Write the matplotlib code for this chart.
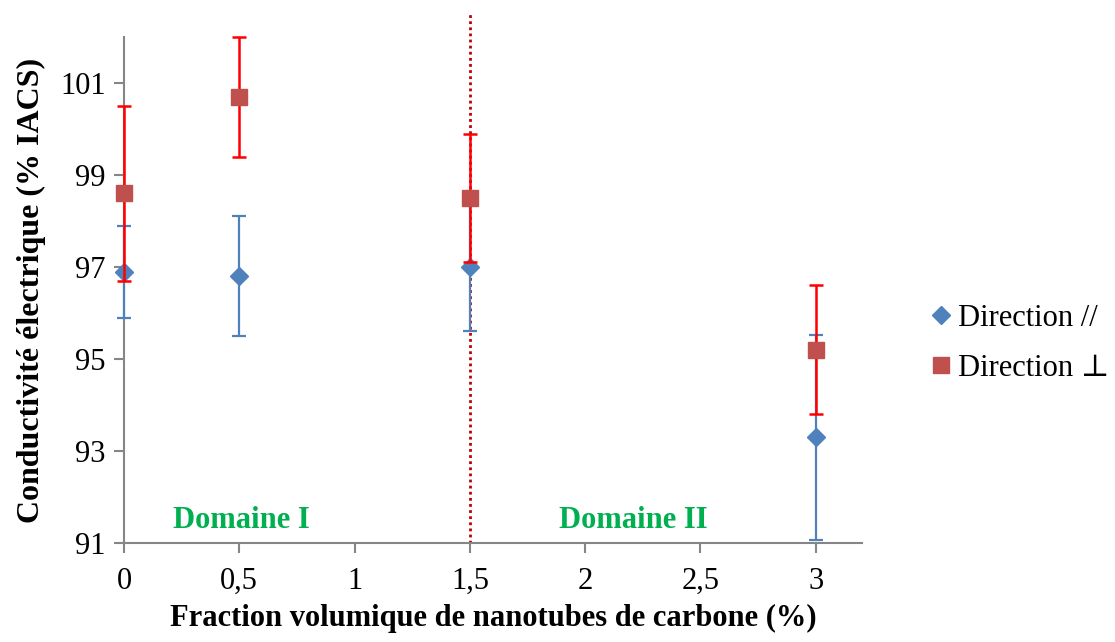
import matplotlib
matplotlib.use("Agg")
import matplotlib.pyplot as plt
from matplotlib.lines import Line2D

# Data
x_vals = [0, 0.5, 1.5, 3]
par_vals = [96.9, 96.8, 97.0, 93.3]
par_err = [1.0, 1.3, 1.4, 2.23]
perp_vals = [98.6, 100.7, 98.5, 95.2]
perp_err = [1.9, 1.3, 1.4, 1.4]
x_ticks = [0, 0.5, 1, 1.5, 2, 2.5, 3]
x_ticklabels = ["0", "0,5", "1", "1,5", "2", "2,5", "3"]
y_ticks = [91, 93, 95, 97, 99, 101]
boundary_x = 1.5
domain_labels = ["Domaine I", "Domaine II"]
domain_x = [0.51, 2.21]
series_labels = ["Direction //", "Direction \u22a5"]

plt.rcParams['font.family'] = ['Liberation Serif', 'DejaVu Serif']

fig = plt.figure(figsize=(11.15, 6.42), dpi=100)
ax = fig.add_axes([0.1112, 0.1542, 0.773 - 0.1112, 0.9424 - 0.1542])

blue = '#4F81BD'
red_m = '#C0504D'
red_e = '#FF0000'

ax.errorbar(x_vals, par_vals, yerr=par_err, fmt='D', color=blue, ecolor=blue,
            markersize=9, capsize=5, elinewidth=1.6, capthick=1.6, zorder=3,
            label=series_labels[0], clip_on=False)
ax.errorbar(x_vals, perp_vals, yerr=perp_err, fmt='s', color=red_m, ecolor=red_e,
            markersize=11, capsize=5, elinewidth=1.8, capthick=1.8, zorder=4,
            label=series_labels[1], clip_on=False)

ax.plot([boundary_x, boundary_x], [91, 102.5], linestyle=(0, (1, 1.2)), color='#C00000',
        linewidth=2, clip_on=False, zorder=2)

ax.set_xlim(0, 3.2)
ax.set_ylim(91, 102)
ax.set_xticks(x_ticks)
ax.set_xticklabels(x_ticklabels)
ax.set_yticks(y_ticks)

for s in ['top', 'right']:
    ax.spines[s].set_visible(False)
for s in ['left', 'bottom']:
    ax.spines[s].set_color('#868686')
    ax.spines[s].set_linewidth(1.5)
ax.tick_params(axis='both', colors='#868686', length=7, width=1.5, labelsize=22, labelcolor='black')
ax.tick_params(axis='x', pad=10)
ax.tick_params(axis='y', pad=6)

ax.set_xlabel("Fraction volumique de nanotubes de carbone (%)", fontsize=22,
              fontweight='bold', labelpad=6)
ax.set_ylabel("Conductivité électrique (% IACS)", fontsize=23, fontweight='bold', labelpad=10)

for lab, xx in zip(domain_labels, domain_x):
    ax.text(xx, 91.5, lab, color='#00B050', fontsize=22, fontweight='bold',
            ha='center', va='center')

handles = [Line2D([], [], marker='D', color=blue, linestyle='none', markersize=9),
           Line2D([], [], marker='s', color=red_m, linestyle='none', markersize=11)]
fig.legend(handles, series_labels, loc='center left', bbox_to_anchor=(0.826, 0.465),
           frameon=False, fontsize=22, handlelength=0.5, handletextpad=0.3,
           labelspacing=0.7, borderaxespad=0)

fig.savefig("out.png", dpi=100)
